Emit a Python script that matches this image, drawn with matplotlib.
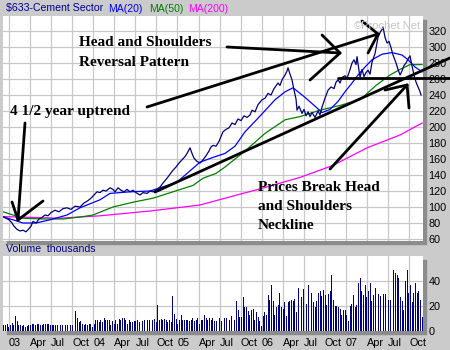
import matplotlib
matplotlib.use("Agg")
import matplotlib.pyplot as plt
from matplotlib.patches import Rectangle

# Time is measured in months from January 2003.
price_t = [-0.85, -0.43, 0.00, 0.43, 0.71, 1.14, 1.57, 1.99, 2.42, 2.85, 3.13, 3.42,
           3.85, 4.27, 4.70, 5.13, 5.56, 5.98, 6.55, 7.12, 7.69, 8.26, 8.83, 9.40,
           10.11, 10.68, 11.25, 11.68, 12.11, 12.54, 12.96, 13.39, 13.82, 14.39, 14.81,
           15.10, 15.53, 15.95, 16.38, 16.81, 17.24, 17.66, 18.09, 18.66, 19.09, 19.66,
           20.09, 20.51, 21.08, 21.51, 21.94, 22.51, 22.93, 23.36, 23.79, 24.22, 24.64,
           25.07, 25.36, 25.78, 26.07, 26.35, 26.78, 27.21, 27.64, 28.06, 28.49, 28.77,
           29.06, 29.49, 29.91, 30.20, 30.48, 30.91, 31.34, 31.77, 32.19, 32.62, 33.05,
           33.48, 33.90, 34.33, 34.62, 35.04, 35.47, 36.04, 36.47, 36.89, 37.32, 37.75,
           38.32, 38.60, 38.89, 39.32, 39.60, 39.74, 40.03, 40.31, 40.60, 40.88, 41.03,
           41.31, 41.74, 42.02, 42.31, 42.59, 42.88, 43.16, 43.59, 44.02, 44.30, 44.59,
           45.01, 45.44, 45.87, 46.30, 46.58, 46.87, 47.15, 47.44, 47.86, 48.15, 48.58,
           48.86, 49.15, 49.43, 49.57, 49.86, 50.00, 50.28, 50.57, 50.85, 51.14, 51.42,
           51.71, 52.14, 52.42, 52.56, 52.85, 53.13, 53.28, 53.56, 53.85, 54.13, 54.42,
           54.70, 55.13, 55.41, 55.70, 55.98, 56.27, 56.55, 56.84, 57.12, 57.41, 57.69,
           57.98, 58.26, 58.55, 58.69]
price_v = [88, 86, 84, 80, 76, 72, 70, 71, 69, 73, 76, 82,
           80, 85, 87, 90, 89, 93, 96, 94, 98, 99, 97, 101,
           100, 105, 108, 111, 115, 119, 118, 121, 120, 124, 122,
           119, 124, 121, 119, 122, 119, 121, 118, 115, 118, 117,
           120, 119, 122, 125, 130, 136, 141, 146, 150, 155, 159,
           163, 167, 174, 167, 161, 157, 155, 159, 164, 170, 175,
           177, 176, 182, 188, 194, 197, 199, 205, 203, 210, 208,
           214, 212, 215, 221, 219, 228, 234, 236, 242, 240, 248,
           255, 252, 259, 265, 270, 274, 266, 259, 246, 235, 221,
           226, 217, 222, 214, 219, 213, 218, 212, 220, 215, 225,
           236, 246, 250, 248, 256, 259, 255, 262, 264, 261, 272,
           280, 284, 278, 288, 270, 262, 272, 263, 268, 271, 266,
           281, 292, 305, 312, 318, 322, 325, 312, 305, 307, 299,
           290, 280, 272, 265, 270, 277, 280, 285, 289, 276, 265,
           256, 250, 244, 240]

ma20_t = [-0.85, 0.57, 1.99, 3.85, 5.84, 8.26, 10.11, 12.96, 14.39, 17.24, 20.09,
          21.51, 23.93, 25.36, 27.21, 29.06, 30.77, 32.19, 33.62, 35.47, 37.89, 39.32,
          40.46, 42.17, 43.59, 44.59, 45.73, 46.87, 47.86, 48.86, 49.72, 50.71, 51.71,
          53.13, 54.56, 55.98, 56.84, 57.83, 58.83]
ma20_v = [87.5, 84, 80, 80, 84, 90, 99, 109, 117, 119, 120,
          124, 131, 142, 156, 162, 167, 176, 194, 211, 234, 244,
          249, 237, 226, 218, 222, 232, 244, 255, 265, 275, 284,
          291, 293, 290, 284, 275, 269]

ma50_t = [-0.85, 0.57, 1.99, 4.84, 7.69, 10.54, 11.97, 14.81, 17.66, 20.51, 23.36,
          26.21, 27.64, 29.49, 30.77, 33.62, 36.47, 39.32, 41.45, 44.30, 47.15, 50.00,
          52.28, 54.27, 55.70, 57.12, 58.83]
ma50_v = [94, 90, 86, 85, 85, 88, 90, 100, 106, 111, 119,
          127, 136, 142, 150, 170, 192, 209, 213, 221, 227, 234,
          252, 265, 272, 278, 278]

ma200_t = [-0.85, 7.26, 12.96, 20.09, 27.21, 30.77, 35.47, 41.45, 46.15, 51.0, 55.7,
           58.85]
ma200_v = [88, 86, 89, 95, 102.5, 111, 122, 137, 152, 174, 190, 205]

# Weekly volume, thousands of shares
volume = [4.5, 5, 6, 3, 4.5, 6.7, 5, 12, 8, 5, 5, 4, 4.5, 3.5, 4, 5, 4.5, 6, 6, 5, 6, 6,
          4.5, 5, 6, 6, 6, 6, 4.5, 5, 5, 5, 4.5, 5, 5, 4.5, 8, 4.5, 5, 4.5, 5, 5, 8, 16.5,
          10.7, 7, 8, 6, 5, 6, 5, 6, 6, 3.5, 6, 9, 8.5, 7, 9, 7, 10.7, 9, 9, 9, 5, 8, 6, 9,
          6, 10, 9, 10.7, 10.7, 9, 6, 9, 7, 7, 8, 8, 9, 7, 9, 8, 9, 8, 9, 9, 7, 9, 10, 7,
          21, 9, 10, 9, 10, 9, 7, 9, 7, 28, 14, 10, 6, 9, 12.5, 9, 9, 9, 9, 8, 9, 10.7, 8,
          9, 10.7, 6, 9, 9, 12.5, 10.7, 9, 10.7, 9, 10.7, 8, 8, 10.7, 10.7, 8, 10.7, 10.7,
          10.7, 10, 9, 12, 10, 9, 24, 17, 11, 11, 27, 19, 19, 16, 13, 17, 18, 9, 15, 11,
          8, 4, 12, 15, 13, 29, 25, 37, 24, 13, 19, 21, 31, 19, 18, 23, 12, 23, 24, 25,
          24, 26, 15, 35, 39, 27, 34, 18, 22, 37, 27, 31, 23, 19, 24, 31, 32, 28, 33, 29,
          21, 30, 32, 45, 25, 20, 20, 19, 18, 13, 17, 17, 13, 8, 20, 22, 29, 19, 21, 39,
          43, 32, 29, 37, 27, 32, 39, 24, 29, 35, 25, 30, 28, 23, 30, 30, 13, 25, 25, 47,
          49, 47, 45, 43, 27, 24, 17, 40, 49, 31, 37, 23, 31, 39, 31, 32, 25, 11]
volume_start, volume_end = -0.75, 58.85

quarter_ticks = list(range(0, 58, 3))
quarter_labels = ["03", "Apr", "Jul", "Oct", "04", "Apr", "Jul", "Oct", "05", "Apr",
                  "Jul", "Oct", "06", "Apr", "Jul", "Oct", "07", "Apr", "Jul", "Oct"]
price_ticks = list(range(60, 321, 20))
volume_ticks = [0, 20, 40]

BG = "#cbcbcb"
GRID = "#c8c8c8"
SHADOW = "#8c8c8c"
NAVY = "#000080"
W, H = 450, 350

plt.rcParams["font.family"] = ["Liberation Sans", "DejaVu Sans"]
fig = plt.figure(figsize=(W / 100, H / 100), dpi=100, facecolor=BG)


def box(x0, y0, x1, y1):
    return [x0 / W, 1 - y1 / H, (x1 - x0) / W, (y1 - y0) / H]


def fx(x):
    return x / W


def fy(y):
    return 1 - y / H


# drop shadows behind the two panels
for (x0, y0, x1, y1) in [(7, 20, 426, 244), (7, 260, 426, 334)]:
    fig.add_artist(Rectangle((fx(x0), fy(y1)), (x1 - x0) / W, (y1 - y0) / H,
                             transform=fig.transFigure, color=SHADOW, zorder=-5))

ax = fig.add_axes(box(3, 16, 423, 241))
axv = fig.add_axes(box(3, 256, 423, 331))
xlim = (-0.855, 58.97)

for a in (ax, axv):
    a.set_zorder(1)
    a.set_facecolor("white")
    a.set_xlim(*xlim)
    for s in a.spines.values():
        s.set_visible(False)
    a.set_xticks(quarter_ticks)
    a.grid(True, color=GRID, linewidth=0.9)
    a.set_axisbelow(True)
    a.yaxis.tick_right()
    a.tick_params(length=0, labelsize=7.8, colors="black", pad=4)

ax.set_ylim(57.5, 338.75)
ax.set_yticks(price_ticks)
ax.set_xticklabels([])

ax.plot(ma200_t, ma200_v, color="#ff00ff", lw=0.9)
ax.plot(ma50_t, ma50_v, color="#008000", lw=0.9)
ax.plot(ma20_t, ma20_v, color="#0000ff", lw=0.9)
ax.plot(price_t, price_v, color=NAVY, lw=0.9)

step = (volume_end - volume_start) / (len(volume) - 1)
vol_x = [volume_start + i * step for i in range(len(volume))]
axv.bar(vol_x, volume, width=step * 0.55, color=NAVY, linewidth=0)
axv.set_ylim(0, 60.4)
axv.set_yticks(volume_ticks)
axv.set_xticklabels(quarter_labels, ha="left")
axv.tick_params(axis="x", pad=5)

# header texts
fig.text(fx(6), fy(8.5), "$633-Cement Sector", color="#000099", fontsize=7.6, va="center")
fig.text(fx(108), fy(8.5), "MA(20)", color="#0000ff", fontsize=7.6, va="center")
fig.text(fx(149), fy(8.5), "MA(50)", color="#008000", fontsize=7.6, va="center")
fig.text(fx(188), fy(8.5), "MA(200)", color="#ff00ff", fontsize=7.6, va="center")
fig.text(fx(6), fy(249.5), "Volume  thousands", color=NAVY, fontsize=7.6, va="center")
ax.text(0.995, 0.955, "\u00a9Prochet.Net", transform=ax.transAxes, ha="right",
        va="center", color="#c4c4c4", fontsize=8)

# hand-drawn annotation lines, in price coordinates
ann_kw = dict(color="black", lw=2.0, solid_capstyle="round", clip_on=False)
segments = [
    ([19.66, 52.56], [225, 316.25]),
    ([50.28, 52.56], [332.5, 316.25]),
    ([51.14, 52.56], [292.5, 316.25]),
    ([31.05, 47.15], [300, 292.5]),
    ([44.59, 47.15], [315, 292.5]),
    ([42.88, 47.15], [258.75, 292.5]),
    ([46.87, 62.8], [261.5, 261.5]),
    ([20.8, 62.8], [118.75, 286.25]),
    ([45.73, 56.7], [147.5, 252.5]),
    ([53.56, 56.7], [246.25, 252.5]),
    ([56.98, 56.7], [223.75, 252.5]),
    ([2.28, 1.28], [205, 83.75]),
    ([0.43, 1.28], [106.25, 83.75]),
    ([4.84, 1.28], [107.5, 83.75]),
]
for xs, ys in segments:
    ax.plot(xs, ys, **ann_kw)

serif = dict(family=["Liberation Serif", "DejaVu Serif"], weight="bold", fontsize=11,
             color="black", va="baseline", ha="left")
fig.text(fx(79), fy(46.5), "Head and Shoulders", **serif)
fig.text(fx(79), fy(65.5), "Reversal Pattern", **serif)
fig.text(fx(10), fy(115), "4 1/2 year uptrend", **serif)
fig.text(fx(258), fy(191), "Prices Break Head", **serif)
fig.text(fx(258), fy(210), "and Shoulders", **serif)
fig.text(fx(258), fy(229), "Neckline", **serif)

fig.savefig("out.png", dpi=100, facecolor=BG)
